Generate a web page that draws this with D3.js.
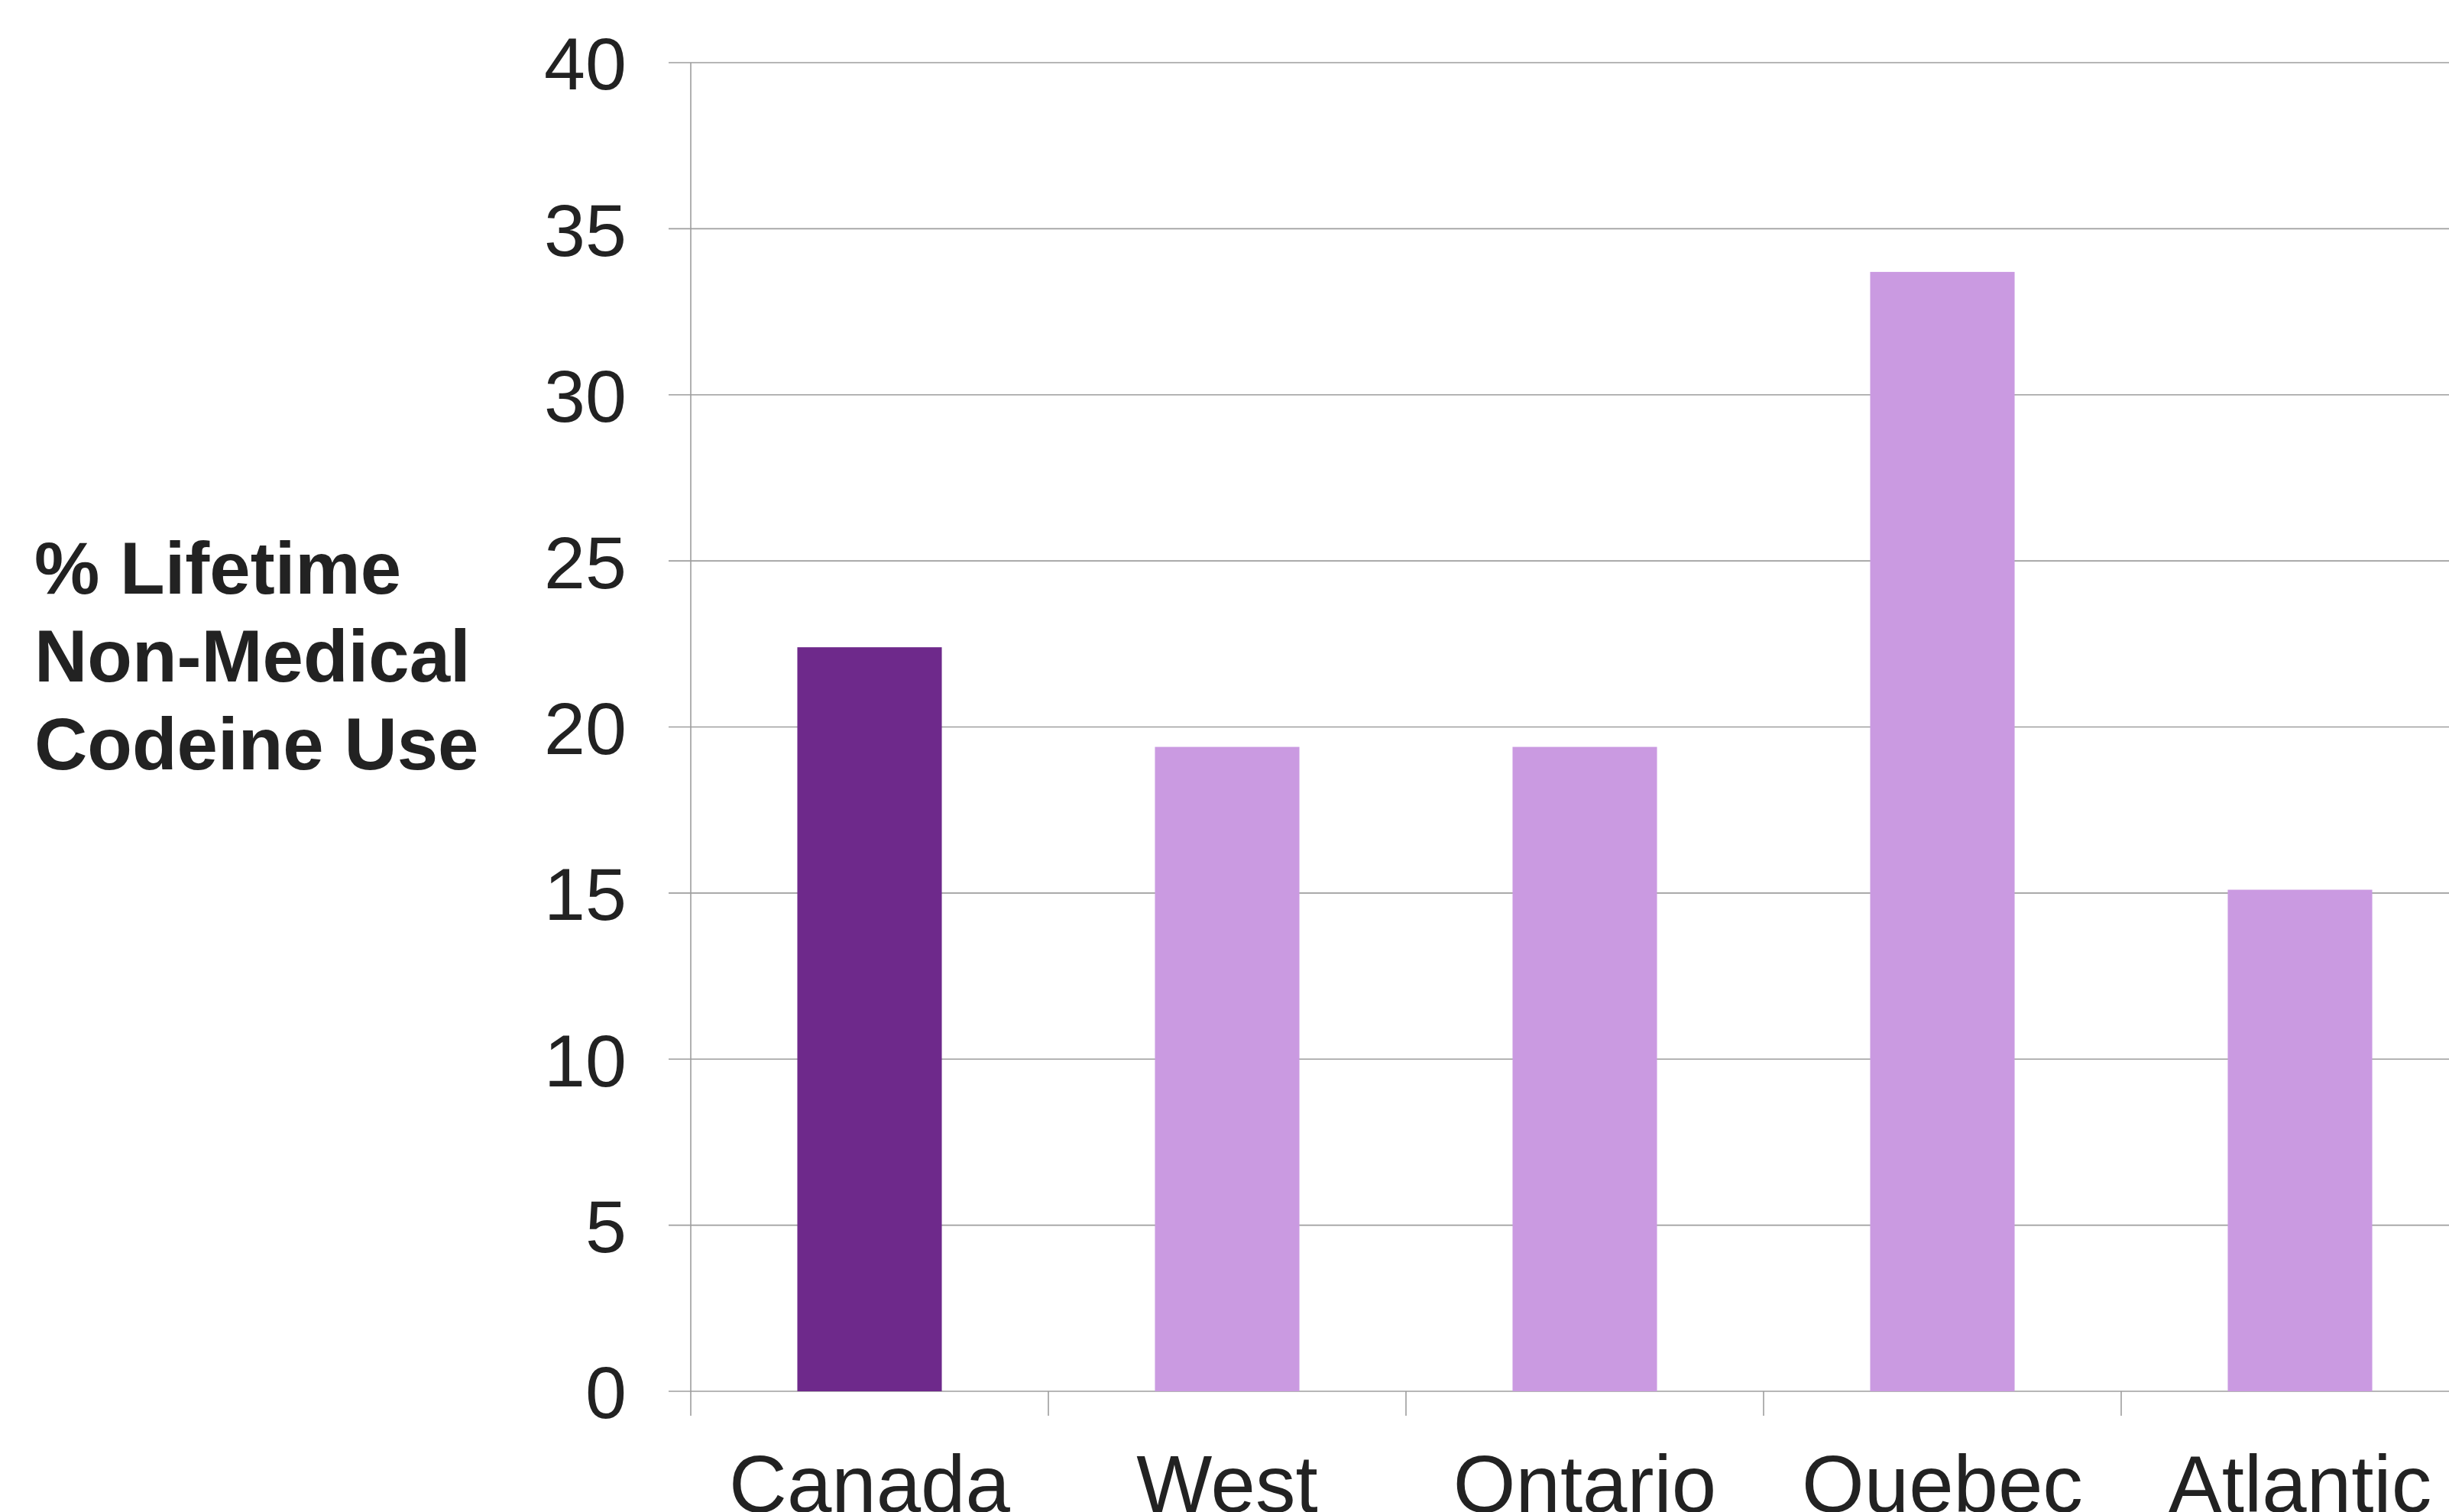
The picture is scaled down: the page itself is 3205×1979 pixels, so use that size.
<!DOCTYPE html>
<html>
<head>
<meta charset="utf-8">
<script src="https://cdn.jsdelivr.net/npm/d3@7/dist/d3.min.js"></script>
<style>
body{margin:0;background:#fff;overflow:hidden;}
text{font-family:"Liberation Sans",Arial,sans-serif;fill:#222;}
</style>
</head>
<body>
<svg id="chart" width="3205" height="1979"></svg>
<script>
//data
var regions=["Canada","West","Ontario","Quebec","Atlantic"];
var lifetimeUse=[22.4,19.4,19.4,33.7,15.1];
var yTicks=[0,5,10,15,20,25,30,35,40];
var titleLines=["% Lifetime","Non-Medical","Codeine Use"];

var svg=d3.select("#chart");
var plotLeft=904, plotBottom=1821, plotTop=82;

var x=d3.scaleBand().domain(regions).range([plotLeft,plotLeft+2340]).paddingInner(0.596).paddingOuter(0.298);
var y=d3.scaleLinear().domain([0,40]).range([plotBottom,plotTop]);

//gridlines
svg.append("g").selectAll("line").data(yTicks).enter().append("line")
    .attr("x1",plotLeft-29).attr("x2",3205)
    .attr("y1",function(d){return y(d);}).attr("y2",function(d){return y(d);})
    .attr("stroke","#9e9e9e").attr("stroke-width",1.6);

//bars
svg.append("g").selectAll("rect").data(regions).enter().append("rect")
    .attr("x",function(d){return x(d);})
    .attr("width",x.bandwidth())
    .attr("y",function(d,i){return y(lifetimeUse[i]);})
    .attr("height",function(d,i){return plotBottom-y(lifetimeUse[i]);})
    .attr("fill",function(d,i){return i==0?"#6e298b":"#ca9ae1";});

//y axis
var yAxis=d3.axisLeft(y).tickValues(yTicks).tickSize(0).tickPadding(84);
var gy=svg.append("g").attr("transform","translate("+plotLeft+",0)").call(yAxis);
gy.select(".domain").remove();
gy.selectAll("text").attr("font-size",97).style("font-family","'Liberation Sans',Arial,sans-serif").attr("fill","#222").attr("dy","0.36em");
svg.append("line").attr("x1",plotLeft).attr("x2",plotLeft).attr("y1",plotTop).attr("y2",plotBottom+32)
    .attr("stroke","#9e9e9e").attr("stroke-width",1.6);

//x axis ticks between categories
var step=x.step();
svg.append("g").selectAll("line").data(regions).enter().append("line")
    .attr("x1",function(d,i){return plotLeft+step*(i+1);}).attr("x2",function(d,i){return plotLeft+step*(i+1);})
    .attr("y1",plotBottom).attr("y2",plotBottom+32)
    .attr("stroke","#9e9e9e").attr("stroke-width",1.6);

svg.append("g").selectAll("text").data(regions).enter().append("text")
    .attr("x",function(d){return x(d)+x.bandwidth()/2;})
    .attr("y",1979)
    .attr("text-anchor","middle").attr("font-size",105)
    .text(function(d){return d;});

//y title
svg.append("g").selectAll("text").data(titleLines).enter().append("text")
    .attr("x",45).attr("y",function(d,i){return 777+i*115;})
    .attr("font-size",96).attr("font-weight","bold")
    .text(function(d){return d;});
</script>
</body>
</html>
